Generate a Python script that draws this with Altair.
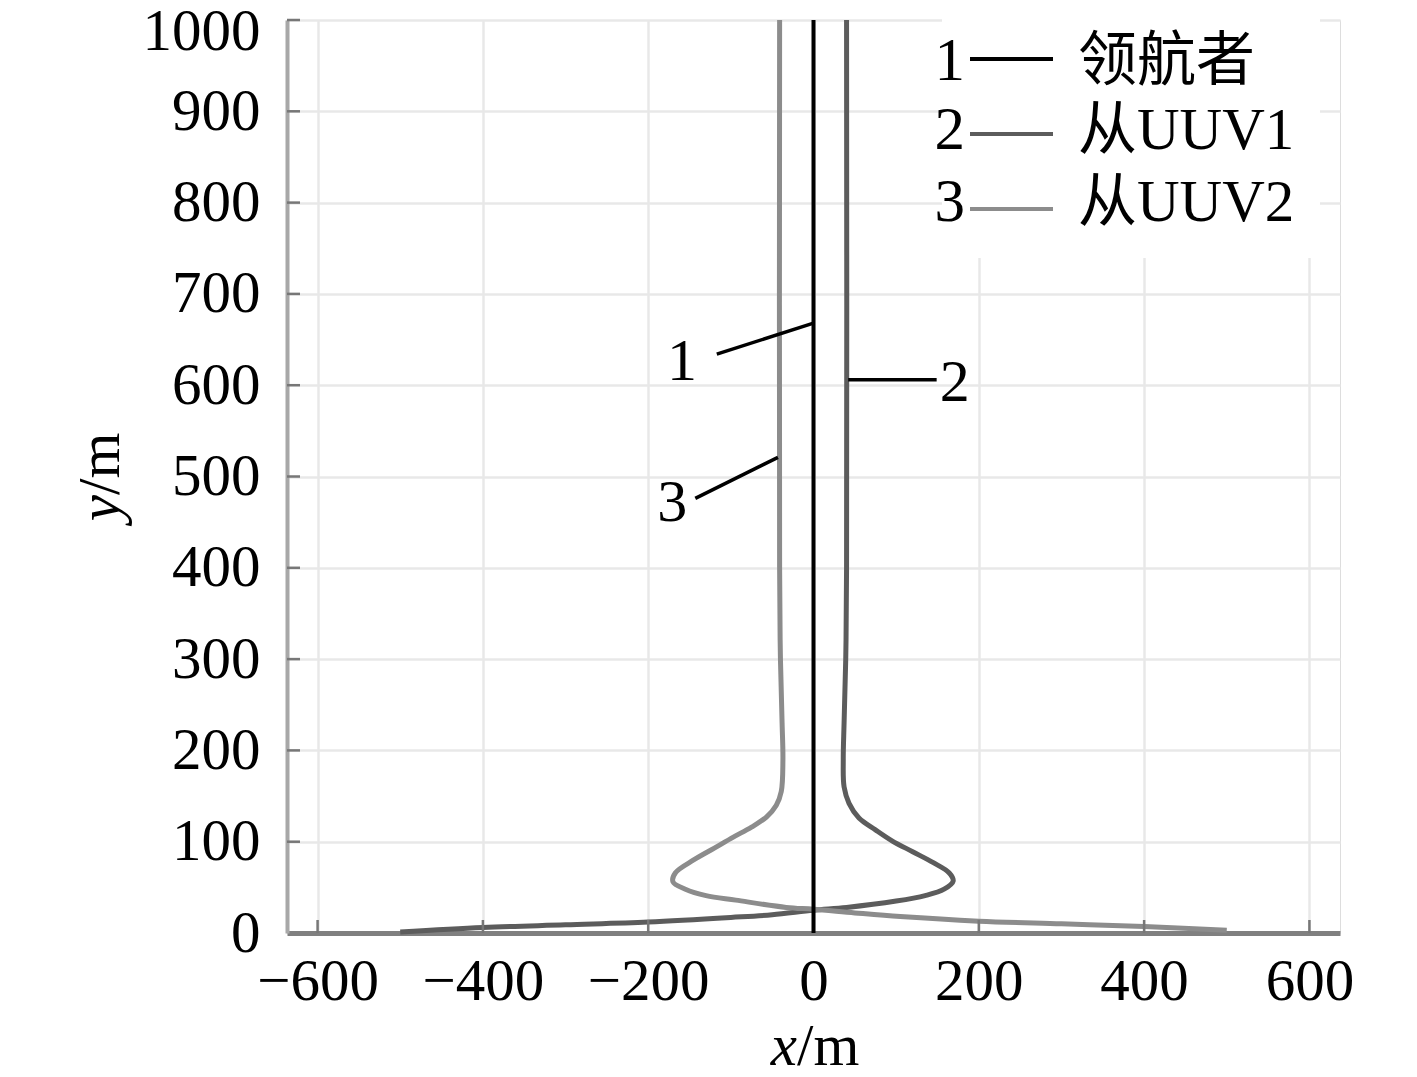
import altair as alt
import pandas as pd

# ---------------- data ----------------
leader_x = [0, 0]
leader_y = [0, 1000]

uuv1_x = [-500, -400, -300, -200, -100, -50, 0, 40, 100, 135, 158, 169, 164, 145, 120, 95, 75, 55, 43, 37, 36, 37, 39, 40, 40]
uuv1_y = [1, 6, 9, 12, 17, 20, 25, 28, 35, 41, 48, 57, 66, 77, 89, 101, 113, 126, 142, 160, 190, 230, 300, 400, 1000]

uuv2_x = [500, 400, 300, 200, 105, 50, 0, -33, -94, -130, -155, -170, -167, -145, -120, -97, -75, -57, -45, -39, -37, -38, -40, -41, -41]
uuv2_y = [3, 7, 10, 13, 18, 22, 26, 28, 36, 41, 48, 56, 66, 80, 93, 105, 116, 127, 140, 155, 189, 230, 300, 400, 1000]

series_names = ["领航者", "从UUV1", "从UUV2"]
series_nums = ["1", "2", "3"]
series_colors = ["#000000", "#5c5c5c", "#8c8c8c"]

x_ticks = [-600, -400, -200, 0, 200, 400, 600]
y_ticks = [0, 100, 200, 300, 400, 500, 600, 700, 800, 900, 1000]

# annotation leader lines (data coordinates)
ann_num = ["1", "2", "3"]
ann_tx = [-159, 171, -171]
ann_ty = [625, 602, 471]
ann_x1 = [-117, 42, -143]
ann_y1 = [634, 606, 476]
ann_x2 = [0, 149, -43]
ann_y2 = [668, 606, 521]

# ---------------- build tables ----------------
rows = []
for name, xs, ys in [(series_names[0], leader_x, leader_y),
                     (series_names[1], uuv1_x, uuv1_y),
                     (series_names[2], uuv2_x, uuv2_y)]:
    for i, (xv, yv) in enumerate(zip(xs, ys)):
        rows.append({"series": name, "i": i, "x": xv, "y": yv})
df = pd.DataFrame(rows)

SERIF = "Liberation Serif, Noto Sans CJK SC"
W, H = 1053, 913
FS = 59

xscale = alt.Scale(domain=[-637, 637], nice=False, zero=False)
yscale = alt.Scale(domain=[0, 1000], nice=False, zero=False)

xaxis = alt.Axis(values=x_ticks, grid=True, gridColor="#e8e8e8", gridWidth=2.5,
                 domainColor="#808080", domainWidth=5, ticks=False, tickSize=0,
                 labelFont=SERIF, labelFontSize=FS, labelColor="#000000", format="d",
                 labelPadding=19, title=None, labelFlush=False)
yaxis = alt.Axis(values=y_ticks, grid=True, gridColor="#e8e8e8", gridWidth=2.5,
                 domainColor="#a8a8a8", domainWidth=4, ticks=False, tickSize=0,
                 labelFont=SERIF, labelFontSize=FS, labelColor="#000000", format="d",
                 labelPadding=27, title=None, labelFlush=False,
                 labelOffset={"condition": {"test": "datum.value >= 1000", "value": 11}, "value": 0})

base = alt.Chart(df)

traj_back = base.transform_filter(alt.datum.series != series_names[0]).mark_line(
    strokeWidth=5, interpolate="catmull-rom", strokeCap="butt"
).encode(
    x=alt.X("x:Q", scale=xscale, axis=xaxis),
    y=alt.Y("y:Q", scale=yscale, axis=yaxis),
    color=alt.Color("series:N", scale=alt.Scale(domain=series_names, range=series_colors), legend=None),
    order=alt.Order("i:Q"),
    detail="series:N",
)

leader = base.transform_filter(alt.datum.series == series_names[0]).mark_line(
    strokeWidth=4, color="#000000"
).encode(
    x=alt.X("x:Q", scale=xscale),
    y=alt.Y("y:Q", scale=yscale),
    order=alt.Order("i:Q"),
)

# inward tick marks
xt_df = pd.DataFrame({"t": [v for v in x_ticks if v != 0]})
xticks_layer = alt.Chart(xt_df).mark_rule(color="#777777", strokeWidth=2.5).encode(
    x=alt.X("t:Q", scale=xscale), y=alt.value(H), y2=alt.value(H - 13)
)
yt_df = pd.DataFrame({"t": y_ticks[1:]})
yticks_layer = alt.Chart(yt_df).mark_rule(color="#777777", strokeWidth=2.5).encode(
    y=alt.Y("t:Q", scale=yscale), x=alt.value(0), x2=alt.value(13)
)

# annotations
ann_df = pd.DataFrame({"num": ann_num, "tx": ann_tx, "ty": ann_ty,
                       "x1": ann_x1, "y1": ann_y1, "x2": ann_x2, "y2": ann_y2})
ann_lines = alt.Chart(ann_df).mark_rule(color="#000000", strokeWidth=3.5).encode(
    x=alt.X("x1:Q", scale=xscale), y=alt.Y("y1:Q", scale=yscale),
    x2="x2:Q", y2="y2:Q"
)
ann_text = alt.Chart(ann_df).mark_text(font=SERIF, fontSize=60, color="#000000",
                                       align="center", baseline="middle").encode(
    x=alt.X("tx:Q", scale=xscale), y=alt.Y("ty:Q", scale=yscale), text="num:N"
)

# legend (drawn manually)
one = pd.DataFrame({"a": [0]})
legend_layers = [
    alt.Chart(one).mark_rect(color="#ffffff").encode(
        x=alt.value(655), x2=alt.value(1033), y=alt.value(-3), y2=alt.value(238)
    )
]
text_ys = [42, 111, 183]
line_ys = [39, 114, 189]
for num, name, col, ty, ly in zip(series_nums, series_names, series_colors, text_ys, line_ys):
    legend_layers.append(alt.Chart(one).mark_text(
        font=SERIF, fontSize=61, color="#000000", align="right", baseline="middle", text=num
    ).encode(x=alt.value(678), y=alt.value(ty)))
    legend_layers.append(alt.Chart(one).mark_rule(color=col, strokeWidth=4).encode(
        x=alt.value(683), x2=alt.value(766), y=alt.value(ly)))
    legend_layers.append(alt.Chart(one).mark_text(
        font=SERIF, fontSize=59, color="#000000", align="left", baseline="middle", text=name
    ).encode(x=alt.value(791), y=alt.value(ty)))

# axis titles with italic variable
titles = [
    alt.Chart(one).mark_text(font=SERIF, fontSize=FS, fontStyle="italic", align="right",
                             baseline="middle", text="x").encode(x=alt.value(510), y=alt.value(1027)),
    alt.Chart(one).mark_text(font=SERIF, fontSize=FS, align="left",
                             baseline="middle", text="/m").encode(x=alt.value(510), y=alt.value(1027)),
    alt.Chart(one).mark_text(font=SERIF, fontSize=FS, fontStyle="italic", align="right",
                             baseline="middle", angle=270, text="y").encode(x=alt.value(-186), y=alt.value(475)),
    alt.Chart(one).mark_text(font=SERIF, fontSize=FS, align="left",
                             baseline="middle", angle=270, text="/m").encode(x=alt.value(-186), y=alt.value(475)),
]

chart = alt.layer(
    traj_back, xticks_layer, yticks_layer, leader, *legend_layers, ann_lines, ann_text, *titles
).properties(
    width=W, height=H,
    autosize=alt.AutoSizeParams(type="none"),
    padding={"left": 279, "top": 12, "right": 60, "bottom": 144},
).configure_view(stroke=None).configure(background="#ffffff")

chart.save("out.html", embed_options={"renderer": "svg", "actions": False})
